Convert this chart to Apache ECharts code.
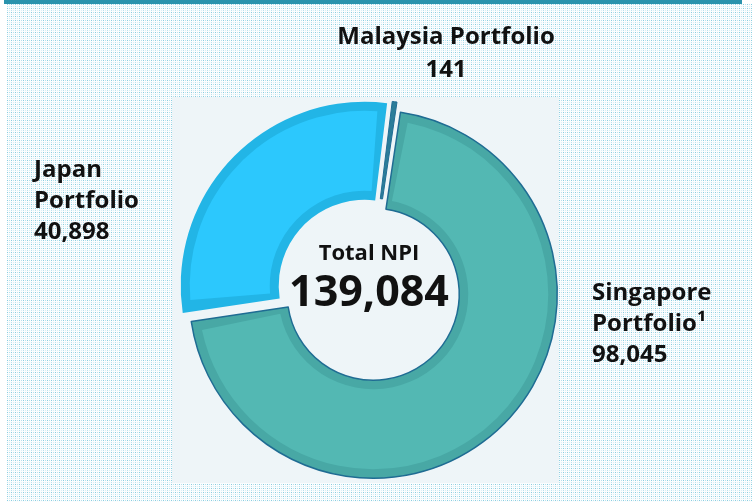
<!DOCTYPE html>
<html>
<head>
<meta charset="utf-8">
<title>Total NPI</title>
<script src="https://cdn.jsdelivr.net/npm/echarts@6/dist/echarts.min.js"></script>
<style>
  html, body { margin: 0; padding: 0; background: #ffffff; }
  #frame { position: relative; width: 755px; height: 502px; overflow: hidden; }
  .dots {
    position: absolute; left: 7px; top: 4px; right: 3px; bottom: 0;
    background-color: #ffffff;
    background-image: url("data:image/svg+xml;utf8,<svg xmlns='http://www.w3.org/2000/svg' width='4' height='4' shape-rendering='crispEdges'><rect width='4' height='4' fill='%23fbfdfe'/><rect x='0' y='0' width='1' height='1' fill='%2388cde0'/><rect x='2' y='0' width='1' height='1' fill='%23b8e2ee'/><rect x='0' y='2' width='1' height='1' fill='%23b8e2ee'/><rect x='2' y='2' width='1' height='1' fill='%23dcf0f6'/></svg>");
    background-size: 4px 4px;
  }
  .topbar { position: absolute; left: 4px; top: 0; width: 738px; height: 4px; background: #2a93ad; }
  .panel { position: absolute; left: 172px; top: 97px; width: 387px; height: 386px; background: #eef5f8; }
  #chart { position: absolute; left: 0; top: 0; width: 755px; height: 502px; }
</style>
</head>
<body>
<div id="frame">
  <div class="dots"></div>
  <div class="topbar"></div>
  <div class="panel"></div>
  <div id="chart"></div>
</div>
<script>
  // data
  const portfolios = ['Malaysia Portfolio', 'Singapore Portfolio', 'Japan Portfolio']
  const labelNames = ['Malaysia Portfolio', 'Singapore\nPortfolio\u00b9', 'Japan\nPortfolio']
  const npi = [141, 98045, 40898]
  const centerTitle = 'Total NPI'

  // styles
  const FONT = '"Open Sans", "Noto Sans", sans-serif'
  const fillColors = ['#2b7d99', '#53b8b3', '#2cc8fd']
  const bandColors = ['#2b7d99', '#48a8a5', '#22b5e6']
  const lineColors = ['#1f6c93', '#1f6c93', '#22b5e6']
  const lineWidths = [1, 1.5, 0]
  const labelPos = [
    { x: 446, y: 54, align: 'center', lineHeight: 33 },
    { x: 592, y: 324, align: 'left', lineHeight: 31 },
    { x: 34, y: 201, align: 'left', lineHeight: 31 }
  ]

  const CENTER = [369, 290]
  const START = 83
  const OFFSET = 6
  const MIN_ANGLE = 1.5

  const total = npi.reduce((a, b) => a + b, 0)

  const chart = echarts.init(document.getElementById('chart'))

  // inner lighter fill: only the large slices, turned a little so they sit inside the outer slices
  const innerIdx = [1, 2]
  const smallShare = 360 * npi[0] / total
  const innerStart = START - (MIN_ANGLE - smallShare) * (1 - (npi[1] / 2) / (total - npi[0]))

  const labels = portfolios.map((name, i) => ({
    type: 'text',
    x: labelPos[i].x,
    y: labelPos[i].y,
    z: 10,
    style: {
      text: labelNames[i] + '\n' + echarts.format.addCommas(npi[i]),
      fontFamily: FONT,
      fontWeight: 'bold',
      fontSize: 24,
      lineHeight: labelPos[i].lineHeight,
      fill: '#111111',
      align: labelPos[i].align,
      verticalAlign: 'middle'
    }
  }))

  chart.setOption({
    backgroundColor: 'transparent',
    animation: false,
    series: [
      {
        type: 'pie',
        silent: true,
        center: CENTER,
        radius: [86, 184],
        startAngle: START,
        clockwise: true,
        minAngle: MIN_ANGLE,
        selectedMode: 'multiple',
        selectedOffset: OFFSET,
        z: 1,
        label: { show: false },
        labelLine: { show: false },
        data: portfolios.map((name, i) => ({
          name: name,
          value: npi[i],
          selected: true,
          itemStyle: { color: bandColors[i], borderColor: lineColors[i], borderWidth: lineWidths[i] },
          select: { itemStyle: { color: bandColors[i], borderColor: lineColors[i], borderWidth: lineWidths[i] } }
        }))
      },
      {
        type: 'pie',
        silent: true,
        center: CENTER,
        radius: [95, 175],
        startAngle: innerStart,
        clockwise: true,
        padAngle: 7.2,
        selectedMode: 'multiple',
        selectedOffset: OFFSET,
        z: 2,
        label: { show: false },
        labelLine: { show: false },
        data: innerIdx.map(i => ({
          name: portfolios[i],
          value: npi[i],
          selected: true,
          itemStyle: { color: fillColors[i], borderWidth: 0 },
          select: { itemStyle: { color: fillColors[i], borderWidth: 0 } }
        }))
      }
    ],
    graphic: labels.concat([
      {
        type: 'text',
        x: CENTER[0],
        y: 254,
        z: 10,
        style: {
          text: centerTitle,
          fontFamily: FONT,
          fontWeight: 'bold',
          fontSize: 22,
          fill: '#111111',
          align: 'center',
          verticalAlign: 'middle'
        }
      },
      {
        type: 'text',
        x: CENTER[0],
        y: 294,
        z: 10,
        style: {
          text: echarts.format.addCommas(total),
          fontFamily: FONT,
          fontWeight: 'bold',
          fontSize: 43,
          fill: '#111111',
          align: 'center',
          verticalAlign: 'middle'
        }
      }
    ])
  })

  window.addEventListener('resize', () => {
    chart && chart.resize()
  })
</script>
</body>
</html>
